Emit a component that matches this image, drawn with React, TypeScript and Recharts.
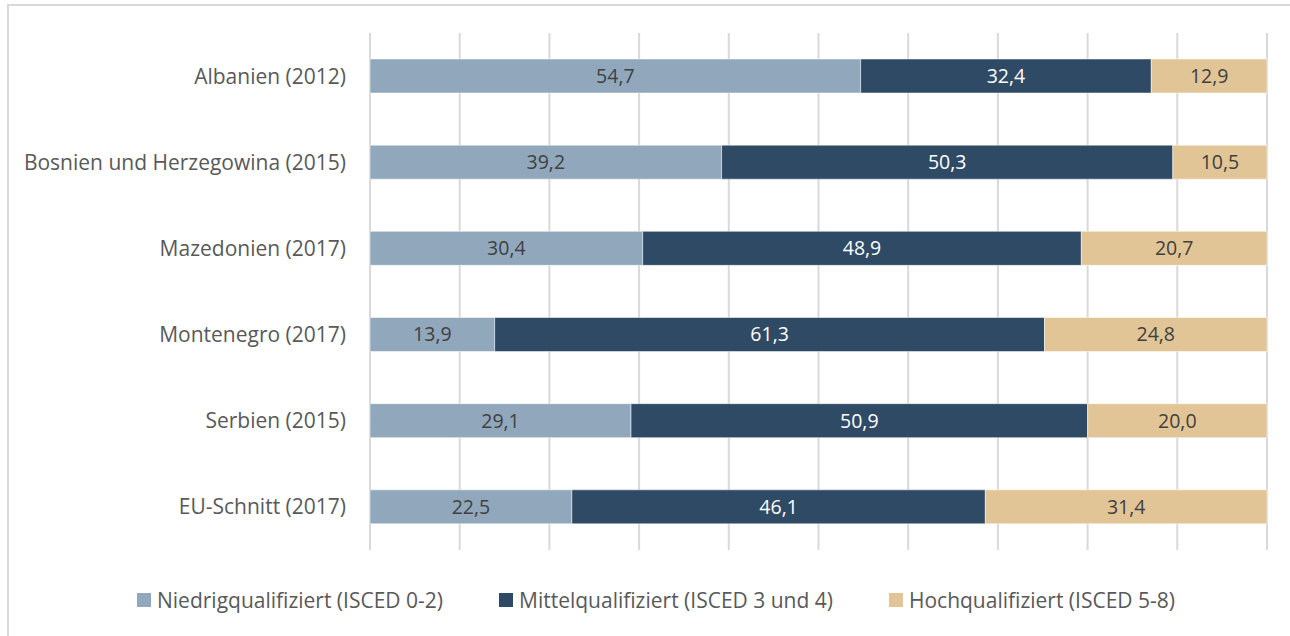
import React from "react"
import { Bar, BarChart, CartesianGrid, LabelList, Legend, XAxis, YAxis } from "recharts"

const countries = [
  "Albanien (2012)",
  "Bosnien und Herzegowina (2015)",
  "Mazedonien (2017)",
  "Montenegro (2017)",
  "Serbien (2015)",
  "EU-Schnitt (2017)",
]
const niedrig = [54.7, 39.2, 30.4, 13.9, 29.1, 22.5]
const mittel = [32.4, 50.3, 48.9, 61.3, 50.9, 46.1]
const hoch = [12.9, 10.5, 20.7, 24.8, 20.0, 31.4]
const xTicks = [0, 10, 20, 30, 40, 50, 60, 70, 80, 90, 100]
const legendOrder = ["niedrig", "mittel", "hoch"]

const data = countries.map((name, i) => ({
  name,
  niedrig: niedrig[i],
  mittel: mittel[i],
  hoch: hoch[i],
}))

const font = "'Open Sans', sans-serif"
const fmt = (v) => Number(v).toFixed(1).replace(".", ",")

const renderLegend = ({ payload }) => {
  const items = [...(payload || [])].sort(
    (a, b) => legendOrder.indexOf(a.dataKey) - legendOrder.indexOf(b.dataKey)
  )
  return (
    <div style={{ display: "flex", justifyContent: "center", gap: 56, paddingLeft: 22, fontFamily: font, fontSize: 21, color: "#595959" }}>
      {items.map((p) => (
        <div key={p.value} style={{ display: "flex", alignItems: "center" }}>
          <span style={{ width: 14, height: 14, background: p.color, marginRight: 6, display: "inline-block" }} />
          <span>{p.value}</span>
        </div>
      ))}
    </div>
  )
}

export default function App() {
  return (
    <div style={{ position: "absolute", left: 0, top: 0, width: 1290, height: 636, background: "#fff" }}>
      <div style={{ position: "absolute", left: 7, top: 4, width: 1290, height: 640, borderTop: "2px solid #d9d9d9", borderLeft: "2px solid #d9d9d9" }} />
      <BarChart
        width={1290}
        height={636}
        data={data}
        layout="vertical"
        barSize={34}
        margin={{ top: 33, right: 23, bottom: 58, left: 0 }}
      >
        <CartesianGrid horizontal={false} stroke="#d9d9d9" strokeWidth={2} />
        <XAxis
          type="number"
          domain={[0, 100]}
          ticks={xTicks}
          tickFormatter={() => ""}
          axisLine={false}
          tickLine={false}
          height={0}
        />
        <YAxis
          type="category"
          dataKey="name"
          width={370}
          tickSize={0}
          tickMargin={24}
          axisLine={false}
          tickLine={false}
          tick={{ fill: "#595959", fontSize: 21, fontFamily: font }}
        />
        <Legend
          verticalAlign="bottom"
          content={renderLegend}
          wrapperStyle={{ top: 586, left: 0, width: 1290 }}
        />
        <Bar dataKey="niedrig" name="Niedrigqualifiziert (ISCED 0-2)" stackId="a" fill="#91a8bc" stroke="#ffffff" strokeWidth={0.5} isAnimationActive={false}>
          <LabelList dataKey="niedrig" position="center" formatter={fmt} fill="#404040" style={{ fontSize: 19.5, fontFamily: font }} />
        </Bar>
        <Bar dataKey="mittel" name="Mittelqualifiziert (ISCED 3 und 4)" stackId="a" fill="#2e4a65" stroke="#ffffff" strokeWidth={0.5} isAnimationActive={false}>
          <LabelList dataKey="mittel" position="center" formatter={fmt} fill="#ffffff" style={{ fontSize: 19.5, fontFamily: font }} />
        </Bar>
        <Bar dataKey="hoch" name="Hochqualifiziert (ISCED 5-8)" stackId="a" fill="#e2c596" stroke="#ffffff" strokeWidth={0.5} isAnimationActive={false}>
          <LabelList dataKey="hoch" position="center" formatter={fmt} fill="#404040" style={{ fontSize: 19.5, fontFamily: font }} />
        </Bar>
      </BarChart>
    </div>
  )
}
